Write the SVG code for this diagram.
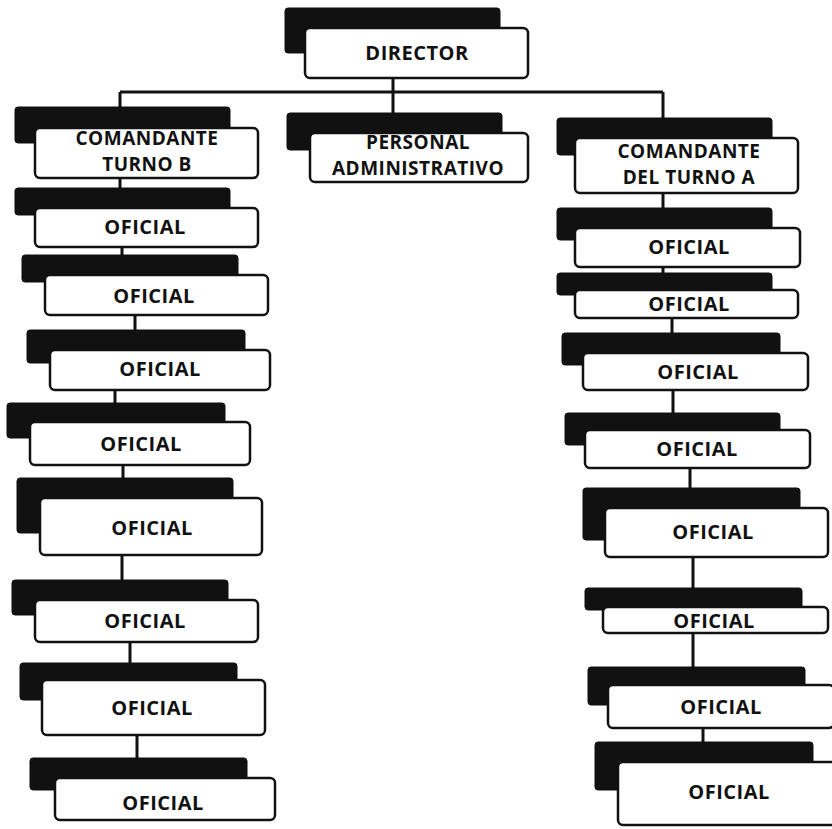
<svg xmlns="http://www.w3.org/2000/svg" width="832" height="829" viewBox="0 0 832 829">
<style>
.bk{fill:#111;stroke:#111;stroke-width:1;}
.wb{fill:#fff;stroke:#111;stroke-width:2.5;}
.t{font-family:"Open Sans","Liberation Sans",sans-serif;font-weight:700;font-size:20px;letter-spacing:0.5px;fill:#111;text-anchor:middle;}
.t2{font-size:19px;}
.c{fill:none;stroke:#111;stroke-width:3;}
</style>
<rect width="832" height="829" fill="#fff"/>
<g id="connectors" class="c">
<path d="M393 78V113M120 92H663M120 92V107M663 92V118"/>
<path d="M120 178V188M122 247V255M135 315V330M115 390V403M123 465V478M122 555V580M130 642V663M137 735V758"/>
<path d="M663 193V208M663 267V273M672 318V333M673 390V413M690 468V488M693 557V588M693 633V667M703 728V742"/>
</g>
<g id="director"><rect class="bk" x="285" y="8" width="215" height="45" rx="3"/><rect class="wb" x="305" y="28" width="223" height="50" rx="5"/><text class="t" x="417" y="60">DIRECTOR</text></g>
<g id="personal"><rect class="bk" x="287" y="113" width="215" height="37" rx="3"/><rect class="wb" x="310" y="133" width="218" height="49" rx="5"/><text class="t t2" x="418" y="149">PERSONAL</text><text class="t t2" x="418" y="175">ADMINISTRATIVO</text></g>
<g id="comandante-b"><rect class="bk" x="15" y="107" width="215" height="36" rx="3"/><rect class="wb" x="35" y="128" width="223" height="50" rx="5"/><text class="t t2" x="147" y="145">COMANDANTE</text><text class="t t2" x="147" y="171">TURNO B</text></g>
<g id="comandante-a"><rect class="bk" x="557" y="118" width="215" height="37" rx="3"/><rect class="wb" x="575" y="138" width="223" height="55" rx="5"/><text class="t t2" x="689" y="158">COMANDANTE</text><text class="t t2" x="689" y="184">DEL TURNO A</text></g>
<g id="oficial-b1"><rect class="bk" x="15" y="188" width="215" height="27" rx="3"/><rect class="wb" x="35" y="208" width="223" height="39" rx="5"/><text class="t" x="145" y="234">OFICIAL</text></g>
<g id="oficial-b2"><rect class="bk" x="22" y="255" width="216" height="27" rx="3"/><rect class="wb" x="45" y="275" width="223" height="40" rx="5"/><text class="t" x="154" y="303">OFICIAL</text></g>
<g id="oficial-b3"><rect class="bk" x="27" y="330" width="218" height="33" rx="3"/><rect class="wb" x="50" y="350" width="220" height="40" rx="5"/><text class="t" x="160" y="376">OFICIAL</text></g>
<g id="oficial-b4"><rect class="bk" x="7" y="403" width="218" height="35" rx="3"/><rect class="wb" x="30" y="422" width="220" height="43" rx="5"/><text class="t" x="141" y="451">OFICIAL</text></g>
<g id="oficial-b5"><rect class="bk" x="17" y="478" width="216" height="55" rx="3"/><rect class="wb" x="40" y="498" width="222" height="57" rx="5"/><text class="t" x="152" y="535">OFICIAL</text></g>
<g id="oficial-b6"><rect class="bk" x="12" y="580" width="216" height="35" rx="3"/><rect class="wb" x="35" y="600" width="223" height="42" rx="5"/><text class="t" x="145" y="628">OFICIAL</text></g>
<g id="oficial-b7"><rect class="bk" x="20" y="663" width="217" height="37" rx="3"/><rect class="wb" x="42" y="680" width="223" height="55" rx="5"/><text class="t" x="152" y="715">OFICIAL</text></g>
<g id="oficial-b8"><rect class="bk" x="30" y="758" width="217" height="32" rx="3"/><rect class="wb" x="55" y="778" width="220" height="42" rx="5"/><text class="t" x="163" y="810">OFICIAL</text></g>
<g id="oficial-a1"><rect class="bk" x="557" y="208" width="215" height="32" rx="3"/><rect class="wb" x="575" y="228" width="225" height="39" rx="5"/><text class="t" x="689" y="254">OFICIAL</text></g>
<g id="oficial-a2"><rect class="bk" x="557" y="273" width="215" height="22" rx="3"/><rect class="wb" x="575" y="290" width="223" height="28" rx="5"/><text class="t" x="689" y="311">OFICIAL</text></g>
<g id="oficial-a3"><rect class="bk" x="562" y="333" width="218" height="32" rx="3"/><rect class="wb" x="583" y="353" width="225" height="37" rx="5"/><text class="t" x="698" y="379">OFICIAL</text></g>
<g id="oficial-a4"><rect class="bk" x="565" y="413" width="215" height="32" rx="3"/><rect class="wb" x="585" y="430" width="225" height="38" rx="5"/><text class="t" x="697" y="456">OFICIAL</text></g>
<g id="oficial-a5"><rect class="bk" x="583" y="488" width="217" height="52" rx="3"/><rect class="wb" x="605" y="508" width="223" height="49" rx="5"/><text class="t" x="713" y="539">OFICIAL</text></g>
<g id="oficial-a6"><rect class="bk" x="585" y="588" width="217" height="22" rx="3"/><rect class="wb" x="603" y="607" width="225" height="26" rx="5"/><text class="t" x="714" y="628">OFICIAL</text></g>
<g id="oficial-a7"><rect class="bk" x="588" y="667" width="217" height="38" rx="3"/><rect class="wb" x="608" y="685" width="226" height="43" rx="5"/><text class="t" x="721" y="714">OFICIAL</text></g>
<g id="oficial-a8"><rect class="bk" x="595" y="742" width="218" height="48" rx="3"/><rect class="wb" x="618" y="762" width="222" height="63" rx="5"/><text class="t" x="729" y="799">OFICIAL</text></g>
</svg>
